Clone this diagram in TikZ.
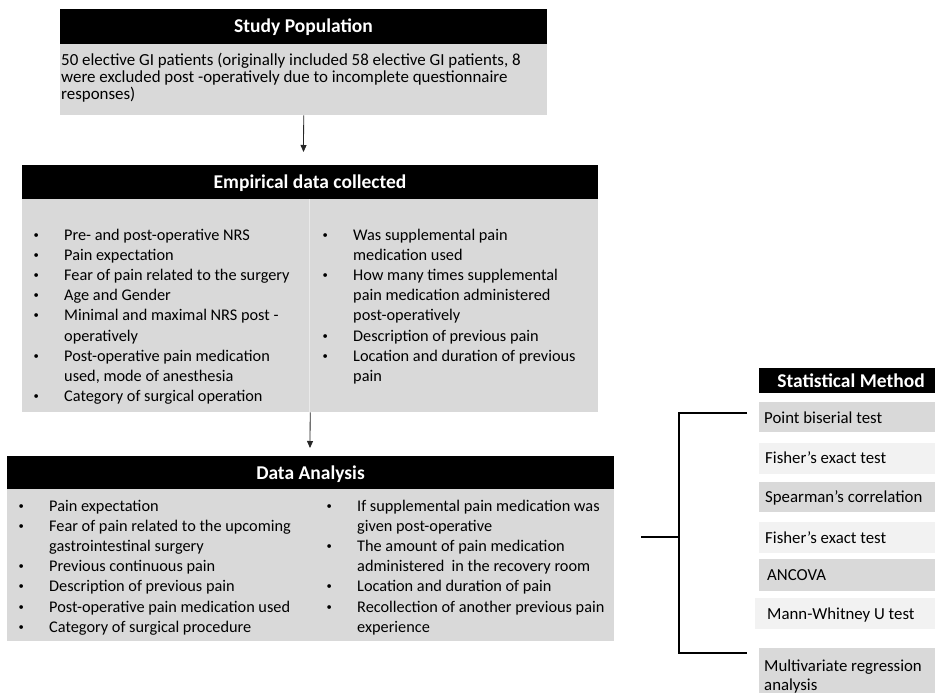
\documentclass[tikz,border=0pt]{standalone}
\usepackage{fontspec}
\setmainfont{Carlito}
\usetikzlibrary{arrows.meta}
\definecolor{boxgray}{HTML}{D9D9D9}
\definecolor{boxlight}{HTML}{F2F2F2}
\definecolor{divgray}{HTML}{EAEAEA}
\newcommand\bodyfont{\fontsize{16.3}{20.2}\selectfont}
\newcommand\popfont{\fontsize{16.9}{15}\selectfont}
\newcommand\statfont{\fontsize{16.8}{19}\selectfont}
\newcommand\headfont{\fontsize{19.5}{22}\selectfont\bfseries}
\newcommand\smallbullet{\hspace{1.4pt}\raisebox{2pt}{\scalebox{0.65}{\textbullet}}}
\newcommand\li[1]{\makebox[32pt][l]{\smallbullet}#1}
\newcommand\lc[1]{\hspace*{32pt}#1}
\tikzset{
  hdr/.style={fill=black, inner sep=0pt, anchor=north west},
  gbox/.style={fill=boxgray, inner sep=0pt, anchor=north west},
  lbox/.style={fill=boxlight, inner sep=0pt, anchor=north west},
  htext/.style={text=white, font=\headfont, inner sep=0pt, anchor=base},
  btext/.style={font=\bodyfont, inner sep=0pt, anchor=base west},
  stext/.style={font=\statfont, inner sep=0pt, anchor=base west},
  arr/.style={-{Triangle[length=7pt,width=6pt]}, line width=0.8pt, black!85},
  brk/.style={line width=1.3pt, black}
}
\begin{document}
\begin{tikzpicture}[x=1pt,y=-1pt]
\useasboundingbox (0,0) rectangle (935,693);

% Study population
\node[hdr, minimum width=487pt, minimum height=35pt] (sph) at (60,9) {};
\node[gbox, minimum width=487pt, minimum height=71pt] (spb) at (60,44) {};
\node[htext] (spht) at (303.5,33) {Study Population};
\node[font=\popfont, inner sep=0pt, anchor=base west] (spt) at (61,66) {\begin{tabular}[t]{@{}l@{}}
50 elective GI patients (originally included 58 elective GI patients, 8\\
were excluded post -operatively due to incomplete questionnaire\\
responses)
\end{tabular}};

% Empirical data
\node[hdr, minimum width=576pt, minimum height=34pt] (emh) at (22,165) {};
\node[gbox, minimum width=576pt, minimum height=213pt] (emb) at (22,199) {};
\node[htext] (emht) at (310,188) {Empirical data collected};
\draw[divgray, line width=1pt] (309,199) -- (309,412);
\node[btext] (eml) at (32,240) {\begin{tabular}[t]{@{}l@{}}
\li{Pre-  and post-operative NRS}\\
\li{Pain expectation}\\
\li{Fear of pain related to the surgery}\\
\li{Age and Gender}\\
\li{Minimal and maximal NRS post -}\\
\lc{operatively}\\
\li{Post-operative pain medication}\\
\lc{used, mode of anesthesia}\\
\li{Category of surgical operation}
\end{tabular}};
\node[btext] (emr) at (321,240) {\begin{tabular}[t]{@{}l@{}}
\li{Was supplemental pain}\\
\lc{medication used}\\
\li{How many times supplemental}\\
\lc{pain medication administered}\\
\lc{post-operatively}\\
\li{Description of previous pain}\\
\li{Location and duration of previous}\\
\lc{pain}
\end{tabular}};

% Data analysis
\node[hdr, minimum width=607pt, minimum height=33pt] (dah) at (7,456) {};
\node[gbox, minimum width=607pt, minimum height=152pt] (dab) at (7,489) {};
\node[htext] (daht) at (310.5,479) {Data Analysis};
\node[btext] (dal) at (17,511) {\begin{tabular}[t]{@{}l@{}}
\li{Pain expectation}\\
\li{Fear of pain related to the upcoming}\\
\lc{gastrointestinal surgery}\\
\li{Previous continuous pain}\\
\li{Description of previous pain}\\
\li{Post-operative pain medication used}\\
\li{Category of surgical procedure}
\end{tabular}};
\node[btext] (dar) at (325,511) {\begin{tabular}[t]{@{}l@{}}
\li{If supplemental pain medication was}\\
\lc{given post-operative}\\
\li{The amount of pain medication}\\
\lc{administered \ in the recovery room}\\
\li{Location and duration of pain}\\
\li{Recollection of another previous pain}\\
\lc{experience}
\end{tabular}};

% Arrows
\coordinate (a1) at (303.5,152);
\coordinate (a2) at (310,448);
\draw[arr] (spb.south) -- (a1);
\draw[arr] (emb.south) -- (a2);

% Statistical method
\node[hdr, minimum width=176pt, minimum height=25pt] (sth) at (759,368) {};
\node[htext] (stht) at (851,387) {Statistical Method};
\node[gbox, minimum width=176pt, minimum height=30pt] (s1) at (759,402) {};
\node[lbox, minimum width=176pt, minimum height=31pt] (s2) at (759,443) {};
\node[gbox, minimum width=176pt, minimum height=30pt] (s3) at (759,482) {};
\node[lbox, minimum width=176pt, minimum height=31pt] (s4) at (759,522) {};
\node[gbox, minimum width=176pt, minimum height=32pt] (s5) at (759,559) {};
\node[lbox, minimum width=180pt, minimum height=31pt] (s6) at (755,598) {};
\node[gbox, minimum width=176pt, minimum height=50pt] (s7) at (759,648) {};
\node[stext] (t1) at (764,423) {Point biserial test};
\node[stext] (t2) at (765,463.5) {Fisher’s exact test};
\node[stext] (t3) at (765,502.5) {Spearman’s correlation};
\node[stext] (t4) at (765,543) {Fisher’s exact test};
\node[stext] (t5) at (767,580.5) {ANCOVA};
\node[stext] (t6) at (767,619) {Mann-Whitney U test};
\node[stext] (t7) at (764,671) {\begin{tabular}[t]{@{}l@{}}Multivariate regression\\analysis\end{tabular}};

% Bracket
\coordinate (bin) at (641,537);
\coordinate (bmid) at (679,537);
\coordinate (btop) at (679,413);
\coordinate (bbot) at (679,653);
\coordinate (btopr) at (747,413);
\coordinate (bbotr) at (747,653);
\draw[brk] (btopr) -- (btop) -- (bbot) -- (bbotr);
\draw[brk] (bin) -- (bmid);
\end{tikzpicture}
\end{document}
